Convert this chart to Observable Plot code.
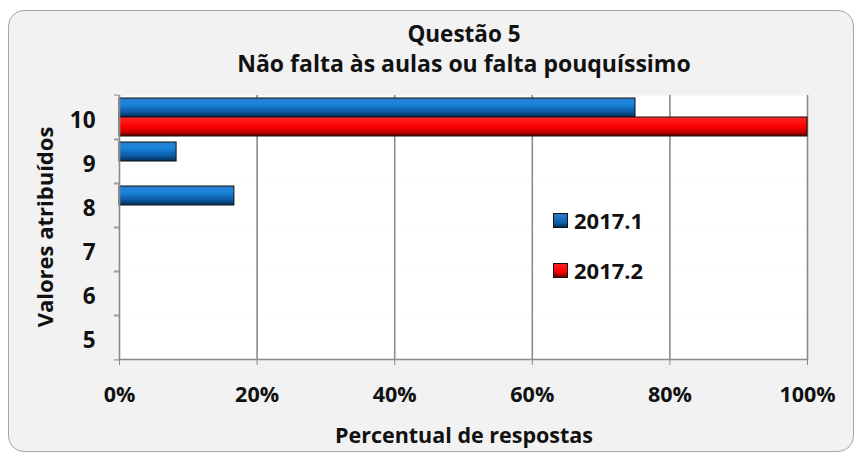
<!DOCTYPE html>
<html><head><meta charset="utf-8">
<script src="https://cdn.jsdelivr.net/npm/d3@7"></script>
<script src="https://cdn.jsdelivr.net/npm/@observablehq/plot@0.6"></script>
<style>
body{margin:0;background:#fff;}
#wrap{position:relative;width:859px;height:456px;overflow:hidden;font-family:"Open Sans",sans-serif;font-weight:700;color:#111;}
#box{position:absolute;left:8px;top:10px;width:846px;height:442px;background:#f2f2f2;border:1.5px solid #a6a6a6;border-radius:16px;box-sizing:border-box;}
#chart{position:absolute;left:0;top:0;}
.t{position:absolute;white-space:nowrap;line-height:1;}
.lg{position:absolute;left:553px;display:flex;align-items:center;font-size:22px;line-height:1;}
.sw{width:13px;height:13px;border:1px solid #111;margin-right:6px;}
</style></head>
<body>
<div id="wrap">
  <div id="box"></div>
  <div id="chart"></div>
  <div class="t" style="left:0;width:928px;text-align:center;top:23px;font-size:22.5px;">Questão 5</div>
  <div class="t" style="left:0;width:928px;text-align:center;top:52px;font-size:23px;">Não falta às aulas ou falta pouquíssimo</div>
  <div class="t" style="left:0;width:928px;text-align:center;top:424px;font-size:21.5px;">Percentual de respostas</div>
  <div class="t" style="left:44px;top:227px;font-size:22px;transform:translate(-50%,-50%) rotate(-90deg);">Valores atribuídos</div>
  <div class="lg" style="top:209px;"><div class="sw" style="background:linear-gradient(#2b7fcf,#0b5ea8 70%,#042f5a)"></div>2017.1</div>
  <div class="lg" style="top:259px;"><div class="sw" style="background:linear-gradient(#ff2020,#ff0000 60%,#700000)"></div>2017.2</div>
</div>
<script>
const categories = ["5", "6", "7", "8", "9", "10"];
const series = ["2017.1", "2017.2"];
const values2017_1 = [0, 0, 0, 0.167, 0.083, 0.75];
const values2017_2 = [0, 0, 0, 0, 0, 1.0];
const xTicks = [0, 0.2, 0.4, 0.6, 0.8, 1.0];

const data = categories.flatMap((c, i) => [
  {cat: c, series: series[0], value: values2017_1[i]},
  {cat: c, series: series[1], value: values2017_2[i]}
]).filter(d => d.value > 0);

const defs = () => {
  const g = d3.create("svg:defs");
  const mk = (id, stops) => {
    const lg = g.append("linearGradient").attr("id", id).attr("x1", 0).attr("y1", 0).attr("x2", 0).attr("y2", 1);
    stops.forEach(([o, c]) => lg.append("stop").attr("offset", o).attr("stop-color", c));
  };
  mk("gBlue", [[0, "#2a7fcf"], [0.3, "#1a86dd"], [0.7, "#0b5ea8"], [1, "#042f5a"]]);
  mk("gRed", [[0, "#ff2a2a"], [0.5, "#ff0000"], [0.8, "#c00000"], [1, "#5a0000"]]);
  return g.node();
};

const fyStep = (456 - 92 - 95) / categories.length;
const axisColor = "#8a8a8a";

const chart = Plot.plot({
  width: 859, height: 456,
  marginLeft: 119, marginRight: 52, marginTop: 92, marginBottom: 95,
  style: {background: "transparent", fontFamily: "Open Sans, sans-serif", color: "#111"},
  x: {domain: [0, 1]},
  fy: {domain: categories.slice().reverse(), padding: 0},
  y: {domain: series, paddingOuter: 0.15, paddingInner: 0, axis: null},
  color: {domain: series, range: ["url(#gBlue)", "url(#gRed)"]},
  marks: [
    defs,
    Plot.frame({fill: "white", stroke: null}),
    Plot.gridX(xTicks.filter(d => d > 0), {stroke: axisColor, strokeOpacity: 1, strokeWidth: 1.6}),
    Plot.barX(data, {x: "value", y: "series", fy: "cat", fill: "series", stroke: "#111", strokeWidth: 1}),
    Plot.ruleX(categories, {x: () => 0, fy: d => d, stroke: axisColor, strokeWidth: 1.6}),
    Plot.frame({anchor: "bottom", facetAnchor: "bottom", stroke: axisColor, strokeWidth: 1.6}),
    Plot.axisX(xTicks, {anchor: "bottom", tickSize: 6, tickPadding: 21, fontSize: 21.5, fontWeight: "bold",
      tickFormat: d3.format(".0%"), label: null, stroke: axisColor}),
    Plot.axisFy({anchor: "left", tickSize: 0, tickPadding: 24, dy: 3, fontSize: 22.5, fontWeight: "bold", label: null}),
    Plot.axisFy({anchor: "left", text: null, tickSize: 5, dy: -fyStep / 2, stroke: axisColor, label: null}),
    Plot.axisFy({anchor: "left", text: null, tickSize: 5, dy: fyStep / 2, stroke: axisColor, label: null})
  ]
});
document.getElementById("chart").appendChild(chart);
</script>
</body></html>
